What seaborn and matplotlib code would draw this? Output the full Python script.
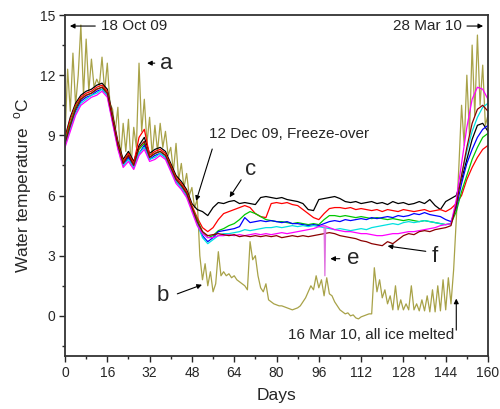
import matplotlib
matplotlib.use("Agg")
import matplotlib.pyplot as plt
import seaborn as sns
import numpy as np
import pandas as pd

# daily surface record (olive) and 2-day records of the other loggers
days_olive = list(range(0, 161))
olive = [
    8.9, 12.3, 10.2, 13.1, 10.5, 12.0, 14.5, 11.0, 13.8, 11.2,
    12.8, 11.4, 11.8, 11.5, 12.9, 11.2, 12.6, 10.6, 10.3, 9.2,
    10.4, 7.8, 9.6, 8.2, 9.8, 7.5, 9.4, 8.4, 12.6, 9.2,
    10.8, 8.6, 9.9, 8.0, 9.5, 8.2, 9.6, 8.4, 9.2, 8.0,
    8.4, 7.2, 8.6, 6.8, 7.6, 6.4, 7.1, 6.0, 6.4, 5.4,
    5.8, 3.0, 1.8, 2.6, 1.5, 2.2, 1.2, 1.6, 3.2, 2.0,
    2.2, 2.0, 2.1, 1.9, 2.0, 1.8, 1.7, 1.6, 1.5, 1.3,
    3.7, 2.8, 3.0, 2.0, 1.4, 1.2, 1.6, 0.8, 0.7, 0.6,
    0.55, 0.5, 0.5, 0.45, 0.4, 0.35, 0.3, 0.35, 0.4, 0.5,
    0.7, 0.9, 1.2, 1.5, 1.3, 2.0, 1.4, 1.8, 1.0, 1.9,
    1.1, 1.0, 0.7, 0.5, 0.3, 0.2, 0.1, 0.15, 0.0, 0.05,
    -0.1, -0.15, -0.05, 0.0, 0.05, 0.1, 0.1, 2.4, 1.2, 1.8,
    0.9, 1.3, 0.6, 1.0, 0.3, 1.5, 0.3, 0.8, 0.3, 0.6,
    0.3, 1.5, 0.3, 0.6, 0.25, 0.8, 0.25, 1.0, 0.2, 1.3,
    0.2, 1.5, 0.25, 1.8, 0.3, 1.9, 0.6, 2.3, 4.8, 7.5,
    10.5, 8.5, 12.0, 9.0, 13.5, 10.0, 14.0, 10.5, 12.5, 9.5,
    10.0,
]

days = list(range(0, 161, 2))
black = [
    8.9, 9.9, 10.6, 11.0, 11.2, 11.3, 11.5, 11.6, 11.3, 10.0, 8.7, 7.8, 8.2,
    7.7, 8.5, 8.9, 8.1, 8.3, 8.4, 8.2, 7.6, 7.0, 6.7, 6.3, 5.6,
    5.3, 5.2, 5.0, 5.4, 5.65, 5.6, 5.7, 5.75, 5.6, 5.65, 5.6, 5.55, 5.9,
    5.95, 5.9, 5.85, 5.9, 5.8, 5.75, 5.7, 5.6, 5.3, 5.25, 5.8, 5.85, 5.9,
    5.95, 5.85, 5.7, 5.65, 5.7, 5.6, 5.65, 5.7, 5.6, 5.65, 5.55, 5.7, 5.6,
    5.65, 5.55, 5.6, 5.7, 5.6, 5.8, 5.5, 5.3, 5.7, 5.85,
    6.0, 6.8, 7.8, 8.8, 9.5, 9.6, 9.2,
]
red = [
    8.8, 9.8, 10.5, 10.9, 11.1, 11.2, 11.4, 11.5, 11.2, 9.9, 8.6, 7.7, 8.1,
    7.6, 8.9, 9.3, 8.0, 8.2, 8.3, 8.1, 7.5, 6.9, 6.6, 6.2, 5.5,
    4.9, 4.4, 4.2, 4.4, 4.8, 5.1, 5.2, 5.3, 5.4, 5.5, 5.4, 5.1, 4.95,
    4.9, 5.6, 5.65, 5.6, 5.65, 5.55, 5.5, 5.3, 5.1, 4.9, 4.8, 5.1, 5.35,
    5.4, 5.4, 5.35, 5.4, 5.3, 5.35, 5.3, 5.25, 5.3, 5.2, 5.3, 5.25, 5.2,
    5.3, 5.25, 5.2, 5.25, 5.3, 5.2, 5.25, 5.3, 5.2, 5.35,
    5.6, 6.0, 6.8, 7.4, 7.9, 8.3, 8.5,
]
green = [
    8.7, 9.6, 10.4, 10.8, 11.0, 11.1, 11.3, 11.4, 11.1, 9.8, 8.5, 7.6, 8.0,
    7.5, 8.3, 8.6, 7.9, 8.1, 8.2, 8.0, 7.4, 6.8, 6.5, 6.1, 5.4,
    4.8, 4.2, 3.9, 4.0, 4.25, 4.35, 4.5, 4.6, 4.8, 5.05, 5.2, 5.1, 4.95,
    4.8, 4.75, 4.7, 4.7, 4.65, 4.6, 4.65, 4.6, 4.55, 4.6, 4.55, 4.8, 5.0,
    5.0, 4.95, 5.0, 4.95, 4.9, 4.95, 4.9, 4.85, 4.9, 4.85, 4.8, 4.85, 4.8,
    4.75, 4.8, 4.75, 4.7, 4.75, 4.7, 4.65, 4.6, 4.55, 4.6,
    5.2, 6.2, 7.0, 7.8, 8.4, 8.9, 9.1,
]
blue = [
    8.6, 9.4, 10.2, 10.7, 10.9, 11.0, 11.2, 11.3, 11.0, 9.7, 8.4, 7.5, 7.9,
    7.4, 8.1, 8.5, 7.8, 8.0, 8.1, 7.9, 7.3, 6.7, 6.4, 6.0, 5.3,
    4.6, 4.0, 3.7, 3.9, 4.2, 4.25, 4.3, 4.35, 4.45, 4.9, 4.65, 4.7, 4.75,
    4.7, 4.75, 4.7, 4.65, 4.7, 4.6, 4.6, 4.55, 4.5, 4.55, 4.5, 4.6, 4.7,
    4.75, 4.7, 4.8, 4.75, 4.8, 4.85, 4.8, 4.9, 4.85, 4.9, 4.95, 4.9, 5.0,
    4.95, 5.0, 5.1, 5.05, 5.15, 5.05, 5.0, 4.95, 4.8, 4.7,
    5.4, 6.6, 7.6, 8.3, 8.9, 9.3, 9.5,
]
cyan = [
    8.5, 9.3, 10.1, 10.6, 10.8, 11.0, 11.1, 11.3, 11.0, 9.7, 8.4, 7.5, 7.8,
    7.4, 8.1, 8.4, 7.8, 7.9, 8.1, 7.9, 7.3, 6.7, 6.4, 6.0, 5.3,
    4.6, 3.9, 3.6, 3.8, 4.0, 4.1, 4.1, 4.15, 4.2, 4.3, 4.25, 4.3, 4.35,
    4.4, 4.4, 4.45, 4.4, 4.45, 4.5, 4.45, 4.5, 4.45, 4.5, 4.45, 4.4, 4.35,
    4.3, 4.35, 4.3, 4.25, 4.3, 4.35, 4.3, 4.4, 4.45, 4.5, 4.55, 4.6, 4.55,
    4.65, 4.7, 4.65, 4.7, 4.75, 4.7, 4.65, 4.6, 4.55, 4.6,
    5.6, 7.0, 8.2, 9.2, 9.9, 10.4, 10.6,
]
magenta = [
    8.4, 9.2, 10.0, 10.5, 10.7, 10.9, 11.0, 11.2, 10.9, 9.6, 8.3, 7.4, 7.7,
    7.3, 8.0, 8.3, 7.7, 7.8, 8.0, 7.8, 7.2, 6.6, 6.3, 5.9, 5.2,
    4.5, 4.1, 3.9, 3.9, 4.0, 4.0, 4.05, 4.0, 4.05, 4.0, 4.05, 4.1, 4.05,
    4.1, 4.05, 4.1, 4.15, 4.1, 4.15, 4.2, 4.25, 4.3, 4.35, 4.45, 4.5, 4.4,
    4.3, 4.25, 4.2, 4.2, 4.15, 4.1, 4.1, 4.05, 4.0, 4.0, 4.05, 4.1, 4.1,
    4.15, 4.2, 4.2, 4.25, 4.3, 4.35, 4.4, 4.5, 4.55, 4.6,
    5.8, 7.6, 9.4, 10.8, 11.4, 11.3, 10.8,
]
maroon = [
    8.6, 9.5, 10.3, 10.8, 11.0, 11.1, 11.3, 11.4, 11.1, 9.8, 8.5, 7.6, 8.0,
    7.5, 8.4, 8.7, 7.9, 8.1, 8.2, 8.0, 7.4, 6.8, 6.5, 6.1, 5.4,
    4.7, 4.2, 4.0, 4.05, 4.1, 4.05, 4.0, 4.05, 3.95, 4.0, 3.95, 4.0, 3.95,
    4.0, 3.95, 4.0, 3.9, 3.95, 4.0, 3.95, 4.0, 3.95, 4.0, 4.05, 4.1, 4.15,
    4.1, 4.0, 3.95, 3.9, 3.85, 3.75, 3.7, 3.6, 3.55, 3.5, 3.7, 3.6, 3.8,
    4.0, 4.1, 4.05, 4.2, 4.25, 4.2, 4.3, 4.35, 4.4, 4.5,
    5.5, 7.0, 8.4, 9.6, 10.3, 10.5, 10.2,
]
# short drop in the magenta record ("e")
e_days = [98.0, 98.3, 98.6]
e_temps = [4.5, 2.0, 4.5]

series = {
    "black": black, "red": red, "green": green, "blue": blue,
    "cyan": cyan, "magenta": magenta, "maroon": maroon,
}
colors = {
    "black": "#000000", "red": "#ff0000", "green": "#00c800", "blue": "#0000ff",
    "cyan": "#00e0e0", "magenta": "#ff00ff", "maroon": "#8b0000",
}

df = pd.concat(
    [pd.DataFrame({"day": days, "temp": v, "logger": k}) for k, v in series.items()],
    ignore_index=True,
)

sns.set_theme(style="ticks")
plt.rcParams["font.family"] = ["Liberation Sans", "DejaVu Sans"]

fig = plt.figure(figsize=(5, 4.09), dpi=100)
ax = fig.add_axes([0.13, 0.1296, 0.846, 0.8337])

sns.lineplot(x=days_olive, y=olive, color="#a8a248", linewidth=0.9, ax=ax)
sns.lineplot(data=df, x="day", y="temp", hue="logger", palette=colors,
             linewidth=0.9, legend=False, ax=ax, sort=False)
sns.lineplot(x=e_days, y=e_temps, color="#e070e0", linewidth=0.9, ax=ax)

ax.set_xlim(0, 160)
ax.set_ylim(-2, 15)
ax.set_xticks(range(0, 161, 16))
ax.set_xticks(range(8, 161, 16), minor=True)
ax.set_yticks(range(0, 16, 3))
ax.set_yticks(np.arange(-1.5, 15, 3), minor=True)
ax.tick_params(which="major", direction="out", length=4, width=1, labelsize=10, pad=3)
ax.tick_params(which="minor", direction="out", length=2.5, width=1)
for s in ax.spines.values():
    s.set_linewidth(1.3)
    s.set_color("#333333")

ax.set_xlabel("Days", fontsize=12.5, labelpad=6)
ax.set_ylabel("Water temperature  $^\\mathregular{o}$C", fontsize=12.5, labelpad=4)

arr = dict(arrowstyle="-|>", color="black", lw=0.8, mutation_scale=7)
ax.annotate("", xy=(0.8, 14.45), xytext=(12.5, 14.45), arrowprops=arr)
ax.text(13.5, 14.45, "18 Oct 09", fontsize=11, va="center", ha="left")
ax.annotate("", xy=(159.2, 14.45), xytext=(151, 14.45), arrowprops=arr)
ax.text(150, 14.45, "28 Mar 10", fontsize=11, va="center", ha="right")

ax.annotate("", xy=(30.0, 12.6), xytext=(35.0, 12.6), arrowprops=arr)
ax.text(36.0, 12.6, "a", fontsize=16, va="center", ha="left")

ax.text(54.5, 9.05, "12 Dec 09, Freeze-over", fontsize=11, va="center", ha="left")
ax.annotate("", xy=(49.3, 5.6), xytext=(56.0, 8.45), arrowprops=arr)

ax.text(68.0, 7.3, "c", fontsize=16, va="center", ha="left")
ax.annotate("", xy=(61.7, 5.8), xytext=(67.2, 6.9), arrowprops=arr)

ax.text(39.5, 1.0, "b", fontsize=16, va="center", ha="right")
ax.annotate("", xy=(52.8, 1.6), xytext=(41.5, 1.05), arrowprops=arr)

ax.text(106.5, 2.85, "e", fontsize=16, va="center", ha="left")
ax.annotate("", xy=(99.3, 2.85), xytext=(105.0, 2.85), arrowprops=arr)

ax.text(138.5, 2.95, "f", fontsize=16, va="center", ha="left")
ax.annotate("", xy=(121.0, 3.5), xytext=(137.5, 3.2), arrowprops=arr)

ax.text(147.3, -0.95, "16 Mar 10, all ice melted", fontsize=11, va="center", ha="right")
ax.annotate("", xy=(148.0, 1.0), xytext=(148.0, -0.85), arrowprops=arr)

fig.savefig("out.png", dpi=100)
